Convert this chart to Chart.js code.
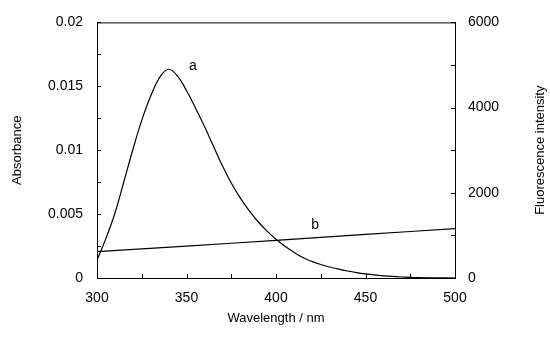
<!DOCTYPE html>
<html>
<head>
<meta charset="utf-8">
<script src="https://cdn.jsdelivr.net/npm/chart.js@4.4.1/dist/chart.umd.min.js"></script>
<style>
  html, body { margin: 0; padding: 0; background: #fff; }
  #wrap { width: 550px; height: 352px; }
</style>
</head>
<body>
<div id="wrap"><canvas id="chart"></canvas></div>
<script>
// Curve a - fluorescence (right axis)
const waveA = [300, 305, 310, 315, 320, 325, 330, 335, 340, 345, 350, 355, 360, 365, 370, 375, 380, 385, 390, 395, 400, 405, 410, 415, 420, 425, 430, 435, 440, 445, 450, 455, 460, 465, 470, 475, 480, 490, 500];
const fluorA = [420, 930, 1520, 2260, 3010, 3700, 4270, 4710, 4900, 4740, 4400, 3990, 3560, 3100, 2640, 2230, 1880, 1580, 1320, 1100, 910, 745, 605, 480, 390, 318, 258, 208, 165, 128, 97, 72, 52, 36, 24, 15, 9, 3, 0];

// Curve b - absorbance (left axis)
const waveB = [300, 325, 350, 375, 400, 425, 450, 475, 500];
const absB = [0.00206, 0.00228, 0.0025, 0.00272, 0.00295, 0.00318, 0.00341, 0.00364, 0.00387];

// curve labels, in data units
const labelA = { text: 'a', x: 353.6, y: 4970 };
const labelB = { text: 'b', x: 421.8, y: 0.00412 };

const FONT = 'Liberation Sans, Arial, sans-serif';

const inwardTicks = {
    id: 'inwardTicks',
    afterDraw(chart) {
        const ctx = chart.ctx;
        const area = chart.chartArea;
        const len = 4;
        ctx.save();
        ctx.strokeStyle = '#000';
        ctx.lineWidth = 1;
        ctx.beginPath();
        // top frame line
        ctx.moveTo(area.left, area.top + 0.5);
        ctx.lineTo(area.right, area.top + 0.5);
        chart.scales.x.ticks.forEach(t => {
            const px = Math.round(chart.scales.x.getPixelForValue(t.value)) + 0.5;
            ctx.moveTo(px, area.bottom);
            ctx.lineTo(px, area.bottom - len);
        });
        chart.scales.y.ticks.forEach(t => {
            const py = Math.round(chart.scales.y.getPixelForValue(t.value)) + 0.5;
            ctx.moveTo(area.left, py);
            ctx.lineTo(area.left + len, py);
        });
        chart.scales.y1.ticks.forEach(t => {
            const py = Math.round(chart.scales.y1.getPixelForValue(t.value)) + 0.5;
            ctx.moveTo(area.right, py);
            ctx.lineTo(area.right - len, py);
        });
        ctx.stroke();

        ctx.fillStyle = '#000';
        ctx.font = '14px ' + FONT;
        ctx.textAlign = 'center';
        ctx.textBaseline = 'middle';
        ctx.fillText(labelA.text, chart.scales.x.getPixelForValue(labelA.x), chart.scales.y1.getPixelForValue(labelA.y));
        ctx.fillText(labelB.text, chart.scales.x.getPixelForValue(labelB.x), chart.scales.y.getPixelForValue(labelB.y));

        // right axis title, reading bottom to top like the left one
        ctx.font = '13px ' + FONT;
        ctx.translate(540, (area.top + area.bottom) / 2);
        ctx.rotate(-Math.PI / 2);
        ctx.fillText('Fluorescence intensity', 0, 0);
        ctx.restore();
    }
};

function isMultiple(v, step) {
    return Math.abs(v / step - Math.round(v / step)) < 1e-6;
}

new Chart(document.getElementById('chart'), {
    type: 'line',
    data: {
        datasets: [{
            label: 'a',
            data: waveA.map((w, i) => ({ x: w, y: fluorA[i] })),
            yAxisID: 'y1',
            borderColor: '#000',
            borderWidth: 1.2,
            pointRadius: 0,
            tension: 0.4,
            fill: false
        }, {
            label: 'b',
            data: waveB.map((w, i) => ({ x: w, y: absB[i] })),
            yAxisID: 'y',
            borderColor: '#000',
            borderWidth: 1.2,
            pointRadius: 0,
            tension: 0,
            fill: false
        }]
    },
    options: {
        responsive: true,
        maintainAspectRatio: false,
        animation: false,
        layout: { padding: { top: 16, left: 0, right: 0, bottom: 0 } },
        plugins: {
            legend: { display: false },
            tooltip: { enabled: false }
        },
        scales: {
            x: {
                type: 'linear',
                min: 300,
                max: 500,
                grid: { display: false, drawTicks: false },
                border: { display: true, color: '#000', width: 1 },
                ticks: {
                    stepSize: 25,
                    autoSkip: false,
                    maxRotation: 0,
                    padding: 12,
                    color: '#000',
                    font: { family: FONT, size: 14 },
                    callback: v => isMultiple(v, 50) ? String(v) : ''
                },
                title: {
                    display: true,
                    text: 'Wavelength / nm',
                    color: '#000',
                    font: { family: FONT, size: 13 },
                    padding: { top: 0, bottom: 26 }
                },
                afterFit: s => { s.height = 74; }
            },
            y: {
                position: 'left',
                min: 0,
                max: 0.02,
                grid: { display: false, drawTicks: false },
                border: { display: true, color: '#000', width: 1 },
                ticks: {
                    stepSize: 0.0025,
                    autoSkip: false,
                    padding: 14,
                    color: '#000',
                    font: { family: FONT, size: 14 },
                    callback: v => isMultiple(v, 0.005) ? String(+v.toFixed(4)) : ''
                },
                title: {
                    display: true,
                    text: 'Absorbance',
                    color: '#000',
                    font: { family: FONT, size: 13 },
                    padding: { top: 10, bottom: 0 }
                },
                afterFit: s => { s.width = 97; }
            },
            y1: {
                position: 'right',
                min: 0,
                max: 6000,
                grid: { display: false, drawTicks: false },
                border: { display: true, color: '#000', width: 1 },
                ticks: {
                    stepSize: 1000,
                    autoSkip: false,
                    padding: 13,
                    color: '#000',
                    font: { family: FONT, size: 14 },
                    callback: v => isMultiple(v, 2000) ? String(v) : ''
                },
                title: { display: false },
                afterFit: s => { s.width = 95; }
            }
        }
    },
    plugins: [inwardTicks]
});
</script>
</body>
</html>
